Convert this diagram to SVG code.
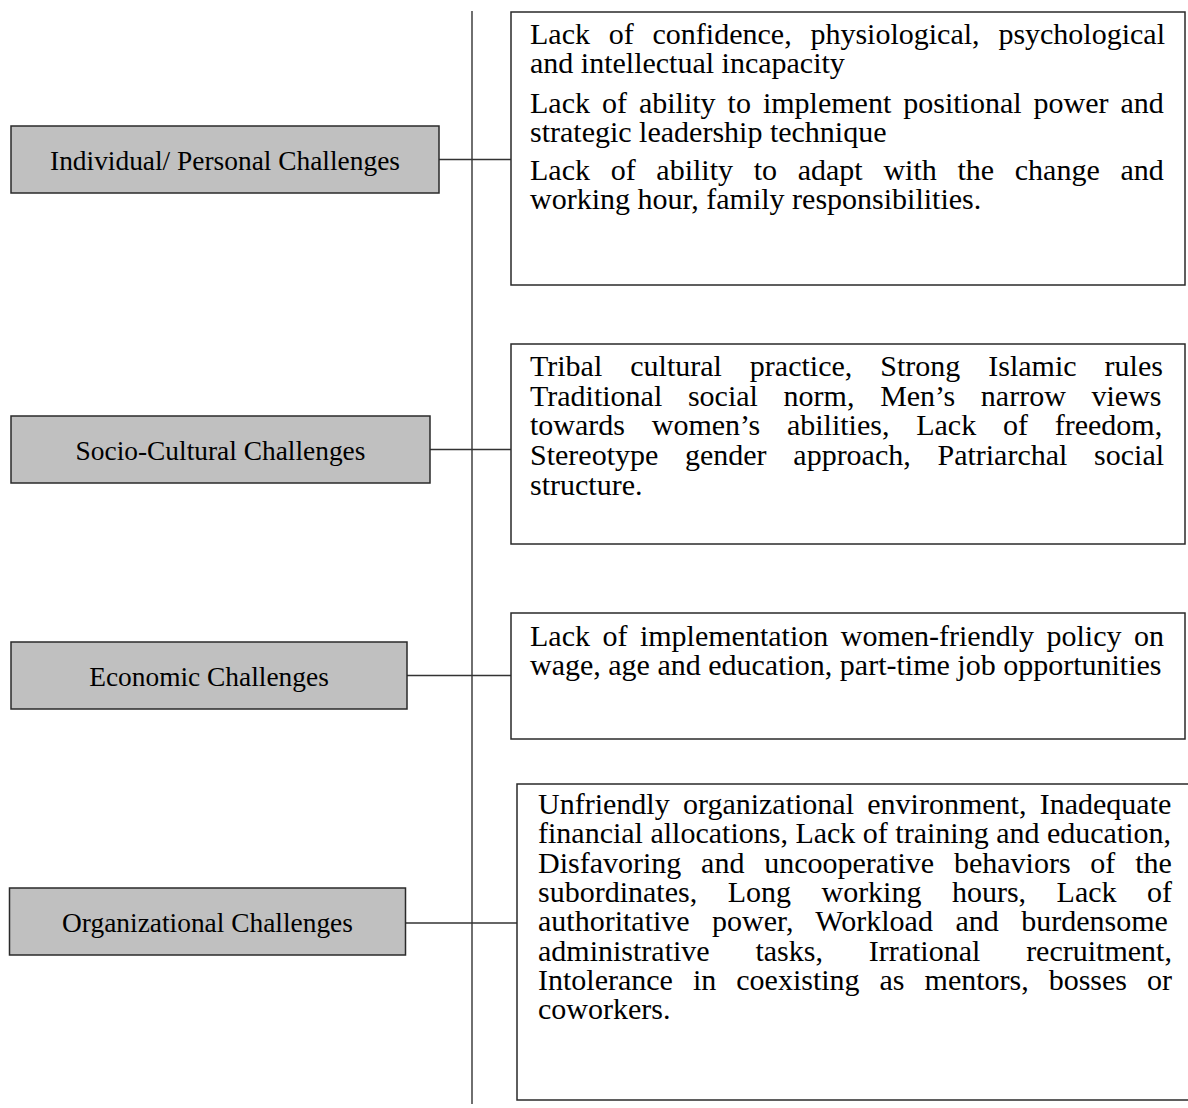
<svg xmlns="http://www.w3.org/2000/svg" width="1188" height="1108" viewBox="0 0 1188 1108">
<style>
.cat{fill:#c0c0c0;stroke:#2a2a2a;stroke-width:1.5}
.det{fill:#ffffff;stroke:#2a2a2a;stroke-width:1.5}
.lbl{font-family:"Liberation Serif","Times New Roman",serif;font-size:27.4px;fill:#000;text-anchor:middle}
.txt{font-family:"Liberation Serif","Times New Roman",serif;font-size:30px;fill:#000}
.con{stroke:#333;stroke-width:1.4;fill:none}
</style>
<rect width="1188" height="1108" fill="#fff"/>
<g id="connectors">
<line class="con" x1="472" y1="11" x2="472" y2="1104"/>
<line class="con" x1="439" y1="159.5" x2="511" y2="159.5"/>
<line class="con" x1="430" y1="449.5" x2="511" y2="449.5"/>
<line class="con" x1="407" y1="675.5" x2="511" y2="675.5"/>
<line class="con" x1="405" y1="923" x2="517" y2="923"/>
</g>
<g id="individual">
<rect class="cat" x="11" y="126" width="428" height="67"/>
<text class="lbl" x="225" y="170">Individual/ Personal Challenges</text>
</g>
<g id="individual-details">
<rect class="det" x="511" y="12" width="674" height="273"/>
<text class="txt">
<tspan x="530" y="44" word-spacing="11.3">Lack of confidence, physiological, psychological</tspan>
<tspan x="530" y="73">and intellectual incapacity</tspan>
<tspan x="530" y="113" word-spacing="4.5">Lack of ability to implement positional power and</tspan>
<tspan x="530" y="142">strategic leadership technique</tspan>
<tspan x="530" y="180" word-spacing="13.2">Lack of ability to adapt with the change and</tspan>
<tspan x="530" y="209">working hour, family responsibilities.</tspan>
</text>
</g>
<g id="socio-cultural">
<rect class="cat" x="11" y="416" width="419" height="67"/>
<text class="lbl" x="220.5" y="460">Socio-Cultural Challenges</text>
</g>
<g id="socio-cultural-details">
<rect class="det" x="511" y="344" width="674" height="200"/>
<text class="txt">
<tspan x="530" y="376" word-spacing="20.5">Tribal cultural practice, Strong Islamic rules</tspan>
<tspan x="530" y="405.5" word-spacing="18.2">Traditional social norm, Men’s narrow views</tspan>
<tspan x="530" y="435" word-spacing="19.3">towards women’s abilities, Lack of freedom,</tspan>
<tspan x="530" y="464.5" word-spacing="19.2">Stereotype gender approach, Patriarchal social</tspan>
<tspan x="530" y="495">structure.</tspan>
</text>
</g>
<g id="economic">
<rect class="cat" x="11" y="642" width="396" height="67"/>
<text class="lbl" x="209" y="686">Economic Challenges</text>
</g>
<g id="economic-details">
<rect class="det" x="511" y="613" width="674" height="126"/>
<text class="txt">
<tspan x="530" y="646" word-spacing="5">Lack of implementation women-friendly policy on</tspan>
<tspan x="530" y="675">wage, age and education, part-time job opportunities</tspan>
</text>
</g>
<g id="organizational">
<rect class="cat" x="9.5" y="888" width="396" height="67"/>
<text class="lbl" x="207.5" y="932">Organizational Challenges</text>
</g>
<g id="organizational-details">
<rect class="det" x="517" y="784" width="680" height="316"/>
<text class="txt">
<tspan x="538" y="814" word-spacing="5.8">Unfriendly organizational environment, Inadequate</tspan>
<tspan x="538" y="843.3">financial allocations, Lack of training and education,</tspan>
<tspan x="538" y="872.6" word-spacing="12.3">Disfavoring and uncooperative behaviors of the</tspan>
<tspan x="538" y="901.9" word-spacing="23">subordinates, Long working hours, Lack of</tspan>
<tspan x="538" y="931.2" word-spacing="15">authoritative power, Workload and burdensome</tspan>
<tspan x="538" y="960.5" word-spacing="38.3">administrative tasks, Irrational recruitment,</tspan>
<tspan x="538" y="989.8" word-spacing="12.5">Intolerance in coexisting as mentors, bosses or</tspan>
<tspan x="538" y="1019">coworkers.</tspan>
</text>
</g>
</svg>
